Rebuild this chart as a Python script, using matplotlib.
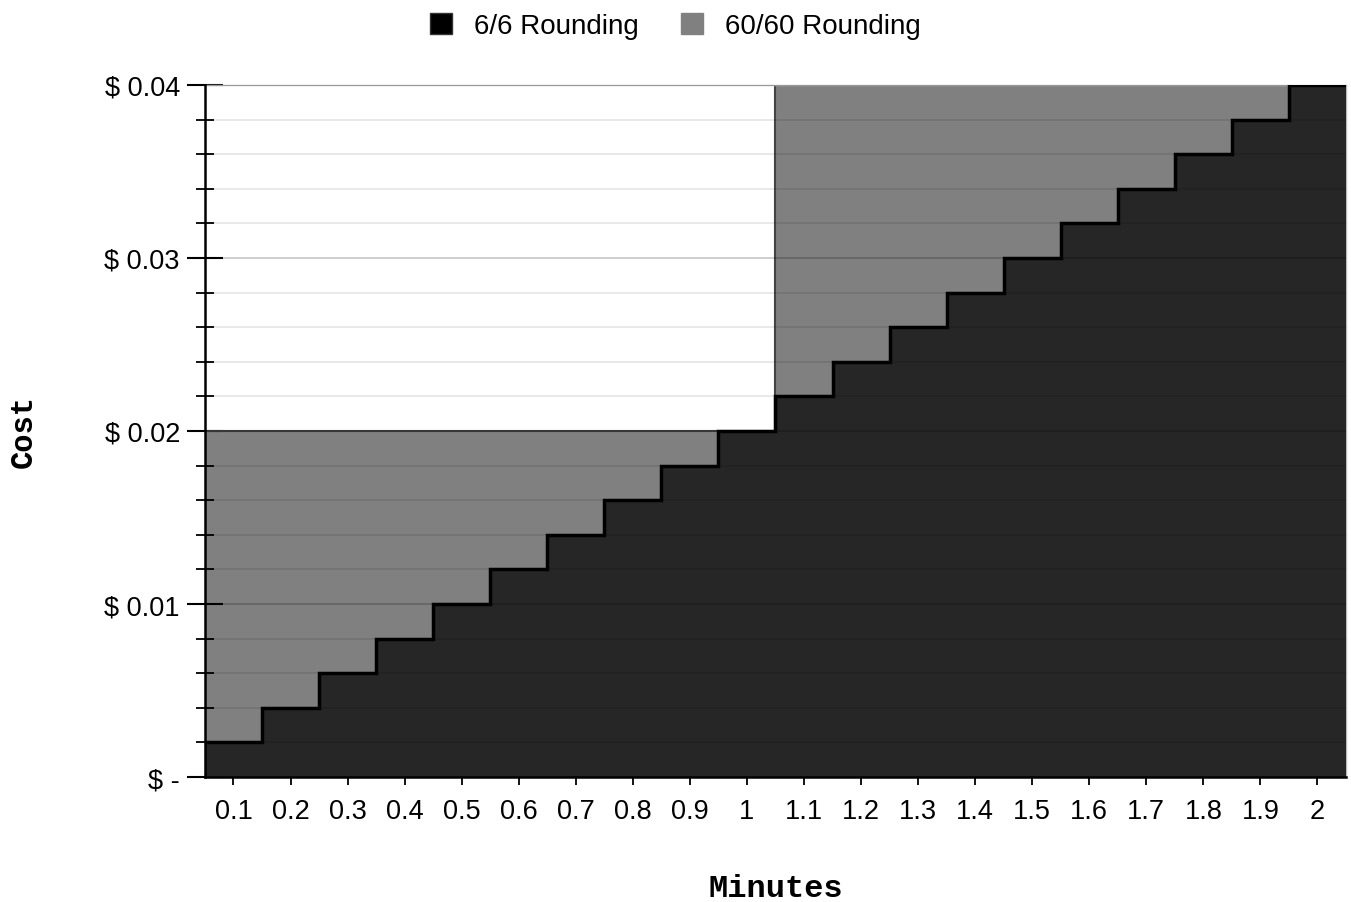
import numpy as np
import matplotlib
matplotlib.use('Agg')
import matplotlib.pyplot as plt
import matplotlib.ticker as mticker
from matplotlib.patches import Patch

plt.rcParams['font.family'] = ['Liberation Sans', 'DejaVu Sans']

minutes = ['0.1', '0.2', '0.3', '0.4', '0.5', '0.6', '0.7', '0.8', '0.9', '1',
           '1.1', '1.2', '1.3', '1.4', '1.5', '1.6', '1.7', '1.8', '1.9', '2']
cost_6_6 = [0.002, 0.004, 0.006, 0.008, 0.010, 0.012, 0.014, 0.016, 0.018, 0.020,
            0.022, 0.024, 0.026, 0.028, 0.030, 0.032, 0.034, 0.036, 0.038, 0.040]
cost_60_60 = [0.02] * 10 + [0.04] * 10

fig = plt.figure(figsize=(13.51, 9.03), dpi=100)
ax = fig.add_axes([0.1517, 0.1384, 0.8446, 0.7664])

edges = np.arange(len(minutes) + 1) - 0.5

ax.stairs(cost_60_60, edges, fill=True, color='#808080', baseline=0, zorder=1)
ax.stairs(cost_60_60, edges, baseline=None, color='#444444', lw=1.5, zorder=2)
ax.stairs(cost_6_6, edges, fill=True, color='#262626', baseline=0, zorder=3)
ax.stairs(cost_6_6, edges, baseline=None, color='black', lw=2.5, zorder=4)

# gridlines drawn over the fills, dark and faint
for y in np.arange(0.002, 0.0401, 0.002):
    major = abs(round(y / 0.01) * 0.01 - y) < 1e-9
    ax.axhline(y, color='black', alpha=0.22 if major else 0.1, lw=1.2, zorder=5)

ax.set_xlim(-0.5, len(minutes) - 0.5)
ax.set_ylim(0, 0.04)
ax.set_xticks(range(len(minutes)))
ax.set_xticklabels(minutes)
ax.set_yticks([0, 0.01, 0.02, 0.03, 0.04])
ax.set_yticklabels(['$ -', '$ 0.01', '$ 0.02', '$ 0.03', '$ 0.04'])
ax.yaxis.set_minor_locator(mticker.MultipleLocator(0.002))

ax.tick_params(axis='y', which='major', direction='inout', length=26, width=1.5,
               labelsize=19.5, pad=5)
ax.tick_params(axis='y', which='minor', direction='inout', length=13, width=1.3)
ax.tick_params(axis='x', which='major', direction='inout', length=12, width=1.3,
               labelsize=19.5, pad=9)

for s in ['top', 'right']:
    ax.spines[s].set_color('#bbbbbb')
    ax.spines[s].set_linewidth(1)
ax.spines['left'].set_linewidth(1.8)
ax.spines['bottom'].set_linewidth(1.8)
ax.spines['left'].set_zorder(6)
ax.spines['bottom'].set_zorder(6)

ax.set_xlabel('Minutes', family='Liberation Mono', fontweight='bold', fontsize=23)
ax.set_ylabel('Cost', family='Liberation Mono', fontweight='bold', fontsize=22)
ax.xaxis.set_label_coords(0.5, -0.138)
ax.yaxis.set_label_coords(-0.146, 0.5)

handles = [Patch(facecolor='black', edgecolor='#333333', label='6/6 Rounding'),
           Patch(facecolor='#808080', edgecolor='#808080', label='60/60 Rounding')]
fig.legend(handles=handles, loc='upper center', bbox_to_anchor=(0.5, 1.012), ncol=2,
           frameon=False, fontsize=20, handlelength=0.8, handleheight=0.8,
           columnspacing=1.5, handletextpad=0.8)

fig.savefig('out.png', dpi=100)
